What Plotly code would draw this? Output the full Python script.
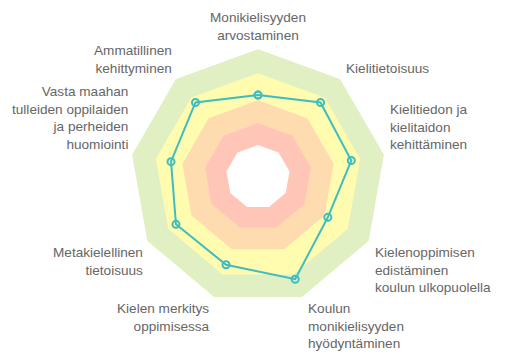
import numpy as np
import plotly.graph_objects as go

categories = [
    "Monikielisyyden<br>arvostaminen",
    "Kielitietoisuus",
    "Kielitiedon ja<br>kielitaidon<br>kehittäminen",
    "Kielenoppimisen<br>edistäminen<br>koulun ulkopuolella",
    "Koulun<br>monikielisyyden<br>hyödyntäminen",
    "Kielen merkitys<br>oppimisessa",
    "Metakielellinen<br>tietoisuus",
    "Vasta maahan<br>tulleiden oppilaiden<br>ja perheiden<br>huomiointi",
    "Ammatillinen<br>kehittyminen",
]
values = [64, 76, 74, 63, 85, 73, 74, 69, 76]

band_levels = [100, 81, 60, 42, 25]
band_colors = ["#e0f0c2", "#fffcb0", "#ffdcb0", "#ffc6b8", "#ffffff"]

W, H = 505, 362
ML, MR, MT, MB = 11, 0, 49, 57

fig = go.Figure()
theta_closed = categories + [categories[0]]
for lvl, col in zip(band_levels, band_colors):
    fig.add_trace(go.Scatterpolar(
        r=[lvl] * (len(categories) + 1), theta=theta_closed,
        mode="lines", fill="toself", fillcolor=col,
        line=dict(width=0, color=col), hoverinfo="skip", showlegend=False))

fig.add_trace(go.Scatterpolar(
    r=values + [values[0]], theta=theta_closed,
    mode="lines+markers",
    line=dict(color="#3dbdbf", width=2),
    marker=dict(symbol="circle-open", size=7, color="#3dbdbf", line=dict(width=2)),
    showlegend=False))

pw = W - ML - MR
ph = H - MT - MB
rad = min(pw, ph) / 2
annotations = []
n = len(categories)
for i, lab in enumerate(categories):
    ang = np.deg2rad(90 - 360 * i / n)
    c, s = np.cos(ang), np.sin(ang)
    x = 0.5 + rad * c / pw
    y = 0.5 + rad * s / ph
    if abs(c) < 0.1:
        xa, al, xs = "center", "center", 0
    elif c > 0:
        xa, al, xs = "left", "left", 4
    else:
        xa, al, xs = "right", "right", -2
    if s > 0:
        ya, ys = "bottom", 1
    else:
        ya, ys = "top", -2
    if abs(c) < 0.1:
        ys = 4
    annotations.append(dict(
        x=x, y=y, xref="paper", yref="paper", text=lab, showarrow=False,
        xanchor=xa, yanchor=ya, align=al, xshift=xs, yshift=ys,
        font=dict(size=13.6, color="#666666", family="Liberation Sans, Arial, sans-serif")))

fig.update_layout(
    width=W, height=H,
    margin=dict(l=ML, r=MR, t=MT, b=MB),
    paper_bgcolor="white",
    polar=dict(
        bgcolor="rgba(0,0,0,0)",
        gridshape="linear",
        domain=dict(x=[0, 1], y=[0, 1]),
        radialaxis=dict(range=[0, 100], visible=False),
        angularaxis=dict(rotation=90, direction="clockwise", visible=False),
    ),
    annotations=annotations,
    showlegend=False,
)

fig.write_html("out.html")
